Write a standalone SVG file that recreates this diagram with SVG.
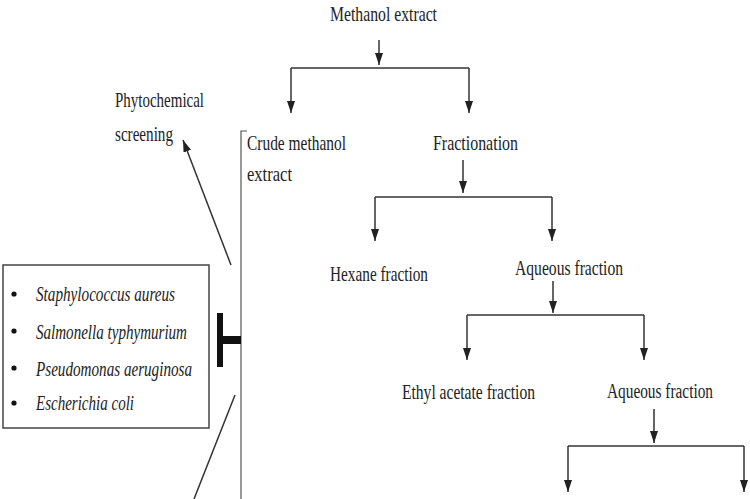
<svg xmlns="http://www.w3.org/2000/svg" width="750" height="499" viewBox="0 0 750 499">
<style>
.t{font-family:"Liberation Serif","Times New Roman",serif;font-size:22px;fill:#222}
.i{font-family:"Liberation Serif","Times New Roman",serif;font-size:22px;font-style:italic;fill:#222}
.c{stroke:#333;stroke-width:1.5;fill:none}
.a{marker-end:url(#ah)}
</style>
<defs>
<marker id="ah" viewBox="0 0 12 8" refX="12" refY="4" markerWidth="12" markerHeight="8" markerUnits="userSpaceOnUse" orient="auto">
<path d="M0,0 L12,4 L0,8 z" fill="#222"/>
</marker>
</defs>
<rect width="750" height="499" fill="#fff"/>
<g id="n-methanol"><text class="t" x="330" y="21" textLength="107" lengthAdjust="spacingAndGlyphs">Methanol extract</text></g>
<g id="n-crude"><text class="t" x="247" y="150" textLength="99" lengthAdjust="spacingAndGlyphs">Crude methanol</text><text class="t" x="247" y="181" textLength="45" lengthAdjust="spacingAndGlyphs">extract</text></g>
<g id="n-fractionation"><text class="t" x="433" y="150" textLength="85" lengthAdjust="spacingAndGlyphs">Fractionation</text></g>
<g id="n-hexane"><text class="t" x="330" y="281" textLength="98" lengthAdjust="spacingAndGlyphs">Hexane fraction</text></g>
<g id="n-aqueous1"><text class="t" x="515" y="275" textLength="108" lengthAdjust="spacingAndGlyphs">Aqueous fraction</text></g>
<g id="n-ethyl"><text class="t" x="402" y="399" textLength="133" lengthAdjust="spacingAndGlyphs">Ethyl acetate fraction</text></g>
<g id="n-aqueous2"><text class="t" x="607" y="398" textLength="106" lengthAdjust="spacingAndGlyphs" style="font-size:20px">Aqueous fraction</text></g>
<g id="n-phyto"><text class="t" x="115" y="107" textLength="89" lengthAdjust="spacingAndGlyphs">Phytochemical</text><text class="t" x="115" y="141" textLength="58" lengthAdjust="spacingAndGlyphs">screening</text></g>
<g id="n-bacteria">
<rect x="3" y="265" width="206" height="163" fill="#fff" stroke="#444" stroke-width="1.5"/>
<circle cx="14" cy="294" r="2.6" fill="#111"/>
<circle cx="14" cy="331" r="2.6" fill="#111"/>
<circle cx="14" cy="368" r="2.6" fill="#111"/>
<circle cx="14" cy="403" r="2.6" fill="#111"/>
<text class="i" x="36" y="301" textLength="139" lengthAdjust="spacingAndGlyphs">Staphylococcus aureus</text>
<text class="i" x="36" y="339" textLength="151" lengthAdjust="spacingAndGlyphs">Salmonella typhymurium</text>
<text class="i" x="36" y="376" textLength="156" lengthAdjust="spacingAndGlyphs">Pseudomonas aeruginosa</text>
<text class="i" x="36" y="410" textLength="98" lengthAdjust="spacingAndGlyphs">Escherichia coli</text>
</g>
<g id="connectors">
<line class="c a" x1="379" y1="40" x2="379" y2="65"/>
<line class="c" x1="291" y1="68" x2="469" y2="68"/>
<line class="c a" x1="291" y1="68" x2="291" y2="113"/>
<line class="c a" x1="469" y1="68" x2="469" y2="113"/>
<line class="c a" x1="463" y1="160" x2="463" y2="193"/>
<line class="c" x1="375" y1="197" x2="552" y2="197"/>
<line class="c a" x1="375" y1="197" x2="375" y2="241"/>
<line class="c a" x1="552" y1="197" x2="552" y2="241"/>
<line class="c a" x1="553" y1="281" x2="553" y2="313"/>
<line class="c" x1="467" y1="315" x2="644" y2="315"/>
<line class="c a" x1="467" y1="315" x2="467" y2="360"/>
<line class="c a" x1="644" y1="315" x2="644" y2="360"/>
<line class="c a" x1="654" y1="409" x2="654" y2="443"/>
<line class="c" x1="568" y1="446" x2="744" y2="446"/>
<line class="c a" x1="568" y1="446" x2="568" y2="492"/>
<line class="c a" x1="744" y1="446" x2="744" y2="492"/>
<polyline points="247,131 241,131 241,499" fill="none" stroke="#555" stroke-width="1.2"/>
<line class="c a" x1="231" y1="265" x2="183" y2="140"/>
<line class="c" x1="235" y1="395" x2="194" y2="499"/>
<line x1="220" y1="313" x2="220" y2="367" stroke="#111" stroke-width="6"/>
<line x1="220" y1="340" x2="241" y2="340" stroke="#111" stroke-width="8"/>
</g>
</svg>
